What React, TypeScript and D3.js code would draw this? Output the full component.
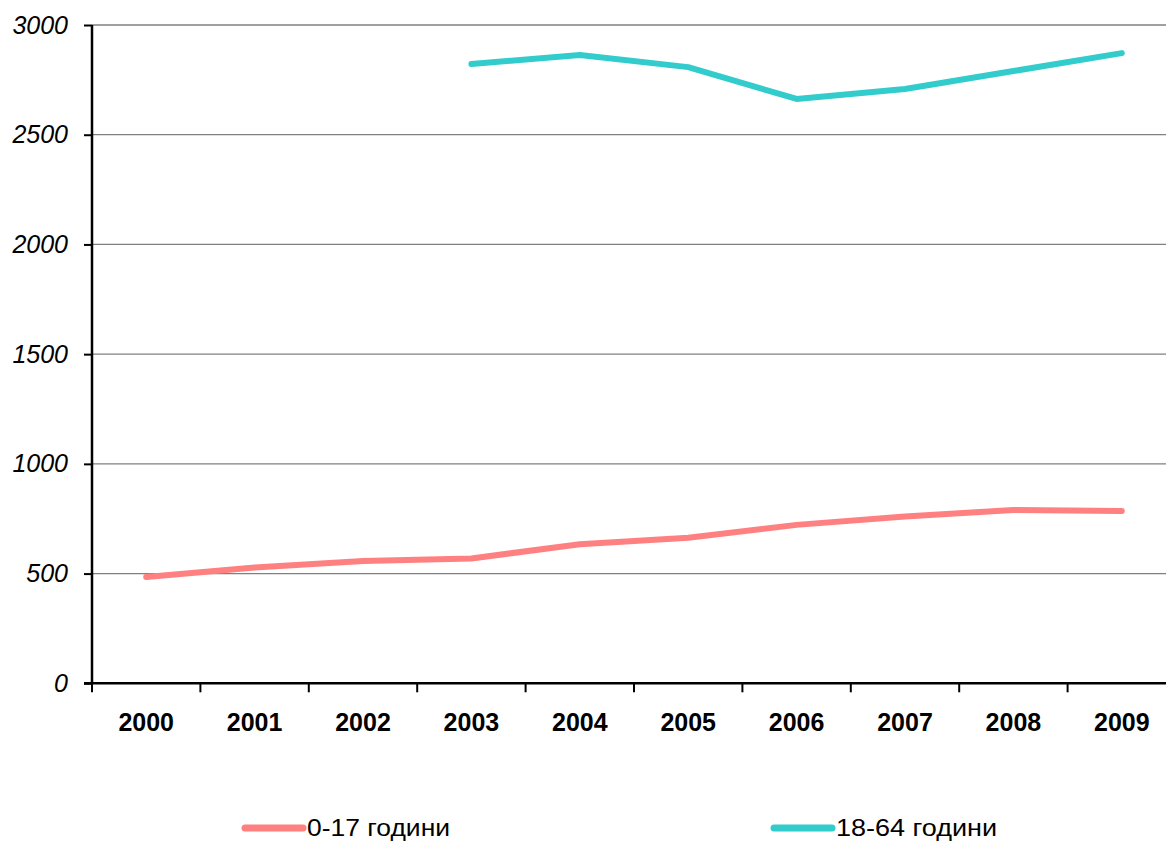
import React, { useEffect, useRef } from "react";
import * as d3 from "d3";

const years = ["2000", "2001", "2002", "2003", "2004", "2005", "2006", "2007", "2008", "2009"];
const kids = [484, 528, 557, 569, 634, 663, 722, 760, 790, 785];
const adults = [null, null, null, 2822, 2863, 2808, 2663, 2708, 2790, 2872];
const yTicks = [0, 500, 1000, 1500, 2000, 2500, 3000];
const seriesNames = ["0-17 години", "18-64 години"];
const colors = ["#FF8080", "#33CCCC"];

const width = 1166,
  height = 843;
const margin = { top: 25, left: 92, bottom: 160 };
const bandW = 108.4;
const font = "Liberation Sans, Arial, sans-serif";

export default function App(): JSX.Element {
  const ref = useRef<SVGSVGElement>(null);

  useEffect(() => {
    if (!ref.current) return;
    const svg = d3.select(ref.current);
    svg.selectAll("*").remove();

    const x = d3
      .scaleBand()
      .domain(years)
      .range([margin.left, margin.left + bandW * years.length]);

    const y = d3
      .scaleLinear()
      .domain([0, 3000])
      .range([683.3, margin.top]);

    // gridlines
    svg
      .append("g")
      .selectAll("line")
      .data(yTicks.filter((d) => d > 0))
      .join("line")
      .attr("x1", margin.left)
      .attr("x2", width)
      .attr("y1", (d) => y(d))
      .attr("y2", (d) => y(d))
      .attr("stroke", "#808080")
      .attr("stroke-width", 1.3);

    // y axis
    const yAxis = svg.append("g").attr("transform", `translate(${margin.left},0)`);
    yAxis
      .call(
        d3.axisLeft(y).tickValues(yTicks).tickFormat(d3.format("d")).tickSize(8).tickPadding(16)
      )
      .call((g) => g.select(".domain").remove());
    yAxis.selectAll(".tick line").attr("stroke", "#000").attr("stroke-width", 2);
    yAxis
      .selectAll(".tick text")
      .attr("font-family", font)
      .attr("font-size", 25)
      .attr("font-style", "italic")
      .attr("fill", "#000");
    svg
      .append("line")
      .attr("x1", margin.left)
      .attr("x2", margin.left)
      .attr("y1", y(3000))
      .attr("y2", y(0))
      .attr("stroke", "#000")
      .attr("stroke-width", 2.5);

    // x axis
    const xAxis = svg.append("g").attr("transform", `translate(0,${y(0)})`);
    xAxis
      .append("line")
      .attr("x1", margin.left - 8)
      .attr("x2", width)
      .attr("stroke", "#000")
      .attr("stroke-width", 2.5);
    xAxis
      .selectAll("line.tk")
      .data(years)
      .join("line")
      .attr("class", "tk")
      .attr("x1", (d) => x(d) as number)
      .attr("x2", (d) => x(d) as number)
      .attr("y1", 0)
      .attr("y2", 9)
      .attr("stroke", "#000")
      .attr("stroke-width", 2);
    xAxis
      .selectAll("text")
      .data(years)
      .join("text")
      .attr("x", (d) => (x(d) as number) + x.bandwidth() / 2)
      .attr("y", 48)
      .attr("text-anchor", "middle")
      .attr("font-family", font)
      .attr("font-weight", "bold")
      .attr("font-size", 25)
      .text((d) => d);

    // lines
    const line = d3
      .line<number | null>()
      .defined((d) => d != null)
      .x((d, i) => (x(years[i]) as number) + x.bandwidth() / 2)
      .y((d) => y(d as number));

    [kids, adults].forEach((s, i) => {
      svg
        .append("path")
        .datum(s)
        .attr("d", line)
        .attr("fill", "none")
        .attr("stroke", colors[i])
        .attr("stroke-width", 6)
        .attr("stroke-linecap", "round")
        .attr("stroke-linejoin", "round");
    });

    // legend
    const legendX = [243, 772];
    const lg = svg
      .append("g")
      .selectAll("g")
      .data(seriesNames)
      .join("g")
      .attr("transform", (d, i) => `translate(${legendX[i]},828)`);
    lg.append("line")
      .attr("x1", 2)
      .attr("x2", 60)
      .attr("stroke", (d, i) => colors[i])
      .attr("stroke-width", 7)
      .attr("stroke-linecap", "round");
    lg.append("text")
      .attr("x", 64)
      .attr("dy", "0.35em")
      .attr("font-family", font)
      .attr("font-size", 24)
      .attr("textLength", (d, i) => (i === 0 ? 143 : 161))
      .attr("lengthAdjust", "spacingAndGlyphs")
      .text((d) => d);
  }, []);

  return (
    <svg
      ref={ref}
      width={width}
      height={height}
      style={{ position: "absolute", left: 0, top: 0, background: "#fff" }}
    />
  );
}
